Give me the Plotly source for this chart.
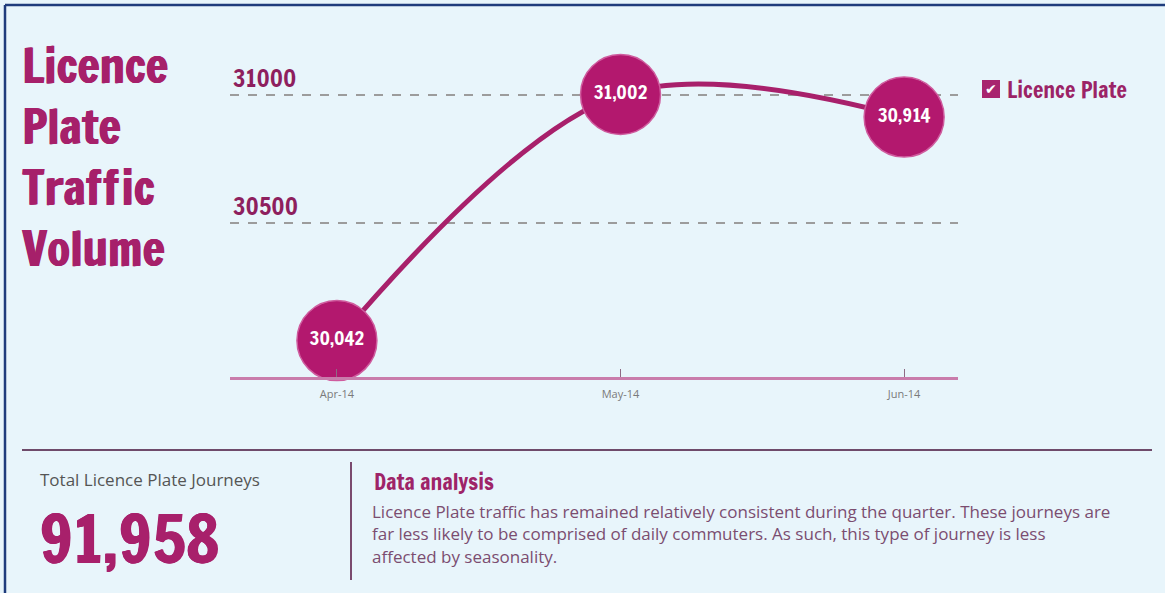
import plotly.graph_objects as go

# ---- data ----
months = ["Apr-14", "May-14", "Jun-14"]
journeys = [30042, 31002, 30914]
y_ticks = [30500, 31000]
series_name = "Licence Plate"
title_lines = ["Licence", "Plate", "Traffic", "Volume"]
total_label = "Total Licence Plate Journeys"
total_value = sum(journeys)
analysis_title = "Data analysis"
analysis_lines = [
    "Licence Plate traffic has remained relatively consistent during the quarter. These journeys are",
    "far less likely to be comprised of daily commuters. As such, this type of journey is less",
    "affected by seasonality.",
]

# ---- style ----
W, H = 1165, 593
L, R, T, B = 230, 958, 31, 377
BG = "#E8F5FB"
MAG = "#A8206B"
DOT = "#B3186E"
TITLE_C = "#A6206A"
COND = "Francois One, Anton, Oswald, Liberation Sans Narrow, DejaVu Sans, sans-serif"
BODY = "Open Sans, Noto Sans, sans-serif"


def px(x):
    return (x - L) / (R - L)


def py(y):
    return (B - y) / (B - T)


def heavy(c):
    return f"0.8px 0 0 {c}, -0.4px 0 0 {c}"


fig = go.Figure()
fig.add_trace(go.Scatter(
    x=list(range(len(months))), y=journeys,
    mode="lines+markers+text",
    line=dict(color=MAG, width=5, shape="spline", smoothing=1.0),
    marker=dict(size=80, color=DOT, line=dict(color="#CF5C9E", width=1.5)),
    texttemplate="%{y:,}", textposition="middle center",
    textfont=dict(family=COND, size=19, color="white"),
    name=series_name, showlegend=False, cliponaxis=False, hoverinfo="skip",
))

fig.update_layout(
    width=W, height=H,
    margin=dict(l=L, r=W - R, t=T, b=H - B),
    paper_bgcolor=BG, plot_bgcolor=BG,
    xaxis=dict(
        range=[-0.377, 2.19],
        tickmode="array", tickvals=list(range(len(months))), ticktext=months,
        showgrid=False, zeroline=False,
        showline=True, linecolor="#C97CAB", linewidth=3,
        ticks="inside", ticklen=8, tickcolor="#8E6A84", tickwidth=1,
        ticklabelstandoff=5,
        tickfont=dict(family=BODY, size=11, color="#7A7A7A"),
    ),
    yaxis=dict(
        range=[29900, 31250],
        tickmode="array", tickvals=y_ticks, ticktext=[str(v) for v in y_ticks],
        ticklabelposition="inside top",
        showgrid=True, gridcolor="#9C9C9C", gridwidth=1.5, griddash="dash",
        zeroline=False, showline=False, ticks="",
        tickfont=dict(family=COND, size=24, color="#8E1F5E"),
    ),
)

annotations = []
# title
annotations.append(dict(
    xref="paper", yref="paper", x=px(20), y=py(30),
    xanchor="left", yanchor="top", align="left", showarrow=False,
    text="<br>".join(title_lines),
    font=dict(family=COND, size=47, color=TITLE_C, shadow=heavy(TITLE_C)),
))
# legend
annotations.append(dict(
    xref="paper", yref="paper", x=px(991), y=py(89), xanchor="center", yanchor="middle",
    showarrow=False, text="✔", font=dict(family="DejaVu Sans", size=14, color="white"),
))
annotations.append(dict(
    xref="paper", yref="paper", x=px(1005), y=py(89), xanchor="left", yanchor="middle",
    showarrow=False, text=series_name,
    font=dict(family=COND, size=22, color="#9B2366"),
))
# bottom panel
annotations.append(dict(
    xref="paper", yref="paper", x=px(38), y=py(479), xanchor="left", yanchor="middle",
    showarrow=False, text=total_label, font=dict(family=BODY, size=17, color="#555555"),
))
annotations.append(dict(
    xref="paper", yref="paper", x=px(37), y=py(538), xanchor="left", yanchor="middle",
    showarrow=False, text=f"{total_value:,}",
    font=dict(family=COND, size=65, color=MAG, shadow=heavy(MAG)),
))
annotations.append(dict(
    xref="paper", yref="paper", x=px(372), y=py(481), xanchor="left", yanchor="middle",
    showarrow=False, text=analysis_title,
    font=dict(family=COND, size=22, color="#9E2468"),
))
for i, t in enumerate(analysis_lines):
    annotations.append(dict(
        xref="paper", yref="paper", x=px(370), y=py(511 + i * 22.5), xanchor="left", yanchor="middle",
        showarrow=False, text=t, font=dict(family=BODY, size=17, color="#7B4D70"),
    ))
fig.update_layout(annotations=annotations)

shapes = [
    # legend checkbox
    dict(type="rect", xref="paper", yref="paper", x0=px(982), x1=px(1000), y0=py(98), y1=py(80),
         fillcolor="#A8246E", line=dict(width=0)),
    # separator lines
    dict(type="line", xref="paper", yref="paper", x0=px(22), x1=px(1152), y0=py(450), y1=py(450),
         line=dict(color="#6E4A6A", width=2)),
    dict(type="line", xref="paper", yref="paper", x0=px(351), x1=px(351), y0=py(462), y1=py(580),
         line=dict(color="#7A4A6E", width=2)),
    # frame (top and left)
    dict(type="line", xref="paper", yref="paper", x0=px(5), x1=px(1170), y0=py(5), y1=py(5),
         line=dict(color="#1F3C7C", width=2.5)),
    dict(type="line", xref="paper", yref="paper", x0=px(5), x1=px(5), y0=py(5), y1=py(600),
         line=dict(color="#1F3C7C", width=2.5)),
]
fig.update_layout(shapes=shapes)

fig.write_html("out.html", config={"displayModeBar": False},
               post_script="document.body.style.margin='0px';document.body.style.overflow='hidden';")
